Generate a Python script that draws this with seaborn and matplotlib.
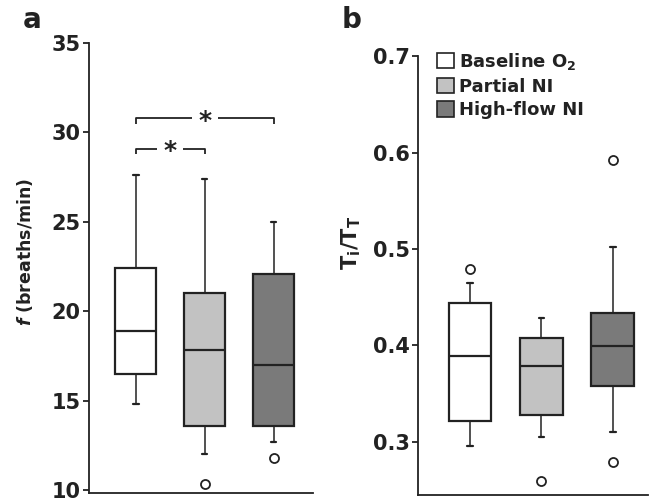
import numpy as np
import pandas as pd
import matplotlib
matplotlib.use("Agg")
import matplotlib.pyplot as plt
import seaborn as sns
from matplotlib.patches import Patch

# groups and their fills
groups = ["Baseline O2", "Partial NI", "High-flow NI"]
legend_labels = ["Baseline O$_2$", "Partial NI", "High-flow NI"]
fills = ["#ffffff", "#c2c2c2", "#7a7a7a"]

# panel a: breathing frequency
# (whisker low, Q1, median, Q3, whisker high)
f_whisk_lo = [14.8, 12.0, 12.7]
f_q1 = [16.5, 13.6, 13.6]
f_med = [18.9, 17.85, 17.0]
f_q3 = [22.4, 21.0, 22.1]
f_whisk_hi = [27.6, 27.4, 25.0]
f_out_group = ["Partial NI", "High-flow NI"]
f_out_val = [10.35, 11.8]

# panel b: Ti/TT
t_whisk_lo = [0.296, 0.305, 0.310]
t_q1 = [0.322, 0.328, 0.358]
t_med = [0.389, 0.379, 0.399]
t_q3 = [0.444, 0.408, 0.434]
t_whisk_hi = [0.465, 0.429, 0.502]
t_out_group = ["Baseline O2", "Partial NI", "High-flow NI", "High-flow NI"]
t_out_val = [0.479, 0.259, 0.592, 0.279]

# significance brackets in panel a
sig_pairs = [(0, 1), (0, 2)]
sig_y = [29.1, 30.8]

INK = "#222222"

sns.set_style("ticks")
plt.rcParams["font.family"] = ["DejaVu Sans"]
plt.rcParams["font.weight"] = "bold"
plt.rcParams["mathtext.fontset"] = "custom"
plt.rcParams["mathtext.rm"] = "DejaVu Sans:bold"
plt.rcParams["mathtext.it"] = "DejaVu Sans:italic:bold"
plt.rcParams["mathtext.bf"] = "DejaVu Sans:bold"
plt.rcParams["text.color"] = INK
plt.rcParams["axes.labelcolor"] = INK
plt.rcParams["xtick.color"] = INK
plt.rcParams["ytick.color"] = INK


def long_form(lo, q1, med, q3, hi):
    rows = []
    for i, g in enumerate(groups):
        for v in (lo[i], q1[i], med[i], q3[i], hi[i]):
            rows.append({"group": g, "value": v})
    return pd.DataFrame(rows)


def draw_panel(ax, df, out_group, out_val):
    sns.boxplot(data=df, x="group", y="value", hue="group", order=groups,
                hue_order=groups, palette=fills, saturation=1, width=0.6,
                whis=(0, 100), showfliers=False, linecolor=INK, linewidth=1.6,
                whiskerprops={"linewidth": 1.1}, capprops={"linewidth": 1.6},
                capwidths=0.08, legend=False, ax=ax)
    out_df = pd.DataFrame({"group": out_group, "value": out_val})
    sns.stripplot(data=out_df, x="group", y="value", order=groups, jitter=False,
                  color="white", edgecolor=INK, linewidth=1.3, size=6.5,
                  ax=ax, zorder=5)
    sns.despine(ax=ax)
    ax.set_xlabel("")
    ax.set_xticks([])
    for s in ("left", "bottom"):
        ax.spines[s].set_linewidth(1.3)
        ax.spines[s].set_color(INK)
    ax.tick_params(axis="y", length=4, width=1.3, labelsize=15, pad=2)
    for lab in ax.get_yticklabels():
        lab.set_fontweight("bold")


fig = plt.figure(figsize=(6.49, 5.01), dpi=100)
ax_a = fig.add_axes([0.137, 0.016, 0.345, 0.898])
ax_b = fig.add_axes([0.644, 0.012, 0.354, 0.876])

# panel a
draw_panel(ax_a, long_form(f_whisk_lo, f_q1, f_med, f_q3, f_whisk_hi), f_out_group, f_out_val)
ax_a.set_ylim(9.83, 35)
ax_a.set_yticks([10, 15, 20, 25, 30, 35])
ax_a.set_xlim(-0.68, 2.57)
ax_a.set_ylabel("$f$ (breaths/min)", fontsize=12.5, fontweight="bold")
ax_a.yaxis.set_label_coords(-0.24, 0.535)

gap = 0.19
drop = 0.3
for (i, j), y in zip(sig_pairs, sig_y):
    mid = (i + j) / 2
    ax_a.plot([i, i, mid - gap], [y - drop, y, y], color=INK, lw=1.3, solid_capstyle="butt")
    ax_a.plot([mid + gap, j, j], [y, y, y - drop], color=INK, lw=1.3, solid_capstyle="butt")
    ax_a.text(mid, y - 0.15, "*", ha="center", va="center", fontsize=18,
              fontweight="bold", color=INK)

# panel b
draw_panel(ax_b, long_form(t_whisk_lo, t_q1, t_med, t_q3, t_whisk_hi), t_out_group, t_out_val)
ax_b.set_ylim(0.245, 0.7)
ax_b.set_yticks([0.3, 0.4, 0.5, 0.6, 0.7])
ax_b.set_yticklabels(["0.3", "0.4", "0.5", "0.6", "0.7"])
ax_b.set_xlim(-0.73, 2.49)
ax_b.set_ylabel("T$_\\mathrm{i}$/T$_\\mathrm{T}$", fontsize=15, fontweight="bold")
ax_b.yaxis.set_label_coords(-0.24, 0.574)

handles = [Patch(facecolor=c, edgecolor=INK, linewidth=1.2) for c in fills]
ax_b.legend(handles, legend_labels, loc="upper left", bbox_to_anchor=(0.083, 1.012),
            frameon=False, borderaxespad=0, borderpad=0, handlelength=0.95,
            handleheight=0.95, handletextpad=0.25, labelspacing=0.32,
            prop={"size": 13, "weight": "bold"})

fig.text(23 / 649, 0.944, "a", fontsize=20, fontweight="bold", va="baseline")
fig.text(342 / 649, 0.944, "b", fontsize=20, fontweight="bold", va="baseline")

fig.savefig("out.png", dpi=100)
